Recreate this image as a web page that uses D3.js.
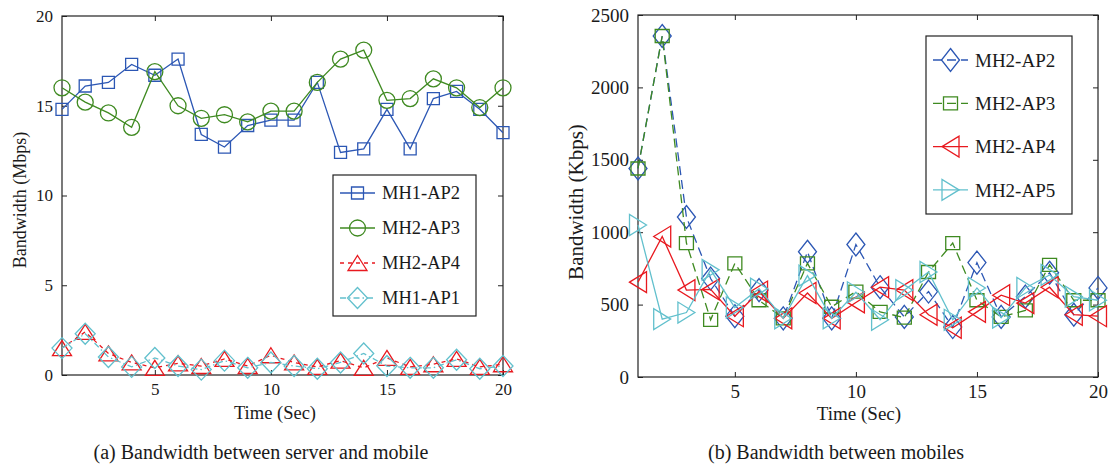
<!DOCTYPE html>
<html>
<head>
<meta charset="utf-8">
<script src="https://cdn.jsdelivr.net/npm/d3@7"></script>
<style>
  body { margin: 0; background: #fff; }
  text { font-family: "Liberation Serif", "Times New Roman", serif; fill: #1a1a1a; }
</style>
</head>
<body>
<svg id="chart" width="1113" height="465"></svg>
<script>
// time axis (seconds)
var time = [1, 2, 3, 4, 5, 6, 7, 8, 9, 10, 11, 12, 13, 14, 15, 16, 17, 18, 19, 20];
var xTicks = [5, 10, 15, 20];

// (a) server <-> mobile, Mbps
var leftYTicks = [0, 5, 10, 15, 20];
var mh1ap2 = [14.8, 16.1, 16.3, 17.3, 16.7, 17.6, 13.4, 12.7, 13.9, 14.2, 14.2, 16.3, 12.4, 12.6, 14.8, 12.6, 15.4, 15.8, 14.8, 13.5];
var mh2ap3 = [16.0, 15.2, 14.6, 13.8, 16.9, 15.0, 14.3, 14.5, 14.1, 14.7, 14.7, 16.3, 17.6, 18.1, 15.3, 15.4, 16.5, 16.0, 14.9, 16.0];
var mh2ap4 = [1.5, 2.4, 1.2, 0.7, 0.4, 0.65, 0.5, 0.9, 0.5, 1.1, 0.7, 0.45, 0.8, 0.4, 0.95, 0.45, 0.6, 0.9, 0.45, 0.6];
var mh1ap1 = [1.5, 2.3, 1.0, 0.45, 0.95, 0.5, 0.3, 0.8, 0.4, 0.7, 0.5, 0.35, 0.7, 1.2, 0.5, 0.4, 0.4, 0.85, 0.35, 0.5];

// (b) mobile <-> mobile, Kbps
var rightYTicks = [0, 500, 1000, 1500, 2000, 2500];
var mh2ap2k = [1440, 2355, 1105, 680, 420, 600, 405, 865, 405, 915, 620, 415, 590, 345, 790, 415, 555, 720, 430, 615];
var mh2ap3k = [1440, 2355, 925, 395, 785, 530, 405, 785, 485, 590, 450, 410, 725, 925, 530, 415, 460, 775, 530, 530];
var mh2ap4k = [655, 970, 600, 605, 420, 590, 405, 580, 405, 515, 620, 600, 430, 340, 450, 565, 510, 620, 430, 420];
var mh2ap5k = [1050, 400, 445, 740, 480, 610, 405, 700, 405, 585, 395, 600, 725, 395, 615, 410, 615, 705, 555, 530];

var blue = "#2c57b4", green = "#3f8a21", red = "#e8191f", cyan = "#62c0cd";
var serif = "Liberation Serif, Times New Roman, serif";

var svg = d3.select("#chart");

// marker outlines, centred on the point
function markerPath(type, w, h) {
  var a = w / 2, b = h / 2;
  if (type == "square") return "M" + (-a) + "," + (-b) + "h" + w + "v" + h + "h" + (-w) + "Z";
  if (type == "circle") return "M" + (-a) + ",0a" + a + "," + a + " 0 1,0 " + w + ",0a" + a + "," + a + " 0 1,0 " + (-w) + ",0Z";
  if (type == "diamond") return "M0," + (-b) + "L" + a + ",0L0," + b + "L" + (-a) + ",0Z";
  if (type == "triUp") return "M0," + (-b) + "L" + a + "," + b + "L" + (-a) + "," + b + "Z";
  if (type == "triLeft") return "M" + (-a) + ",0L" + a + "," + (-b) + "L" + a + "," + b + "Z";
  if (type == "triRight") return "M" + a + ",0L" + (-a) + "," + (-b) + "L" + (-a) + "," + b + "Z";
}

function drawPanel(p) {
  var x = d3.scaleLinear().domain([1, 20]).range([p.x0, p.x1]);
  var y = d3.scaleLinear().domain([p.yTicks[0], p.yTicks[p.yTicks.length - 1]]).range([p.y1, p.y0]);
  var g = svg.append("g");

  // axes, ticks pointing inward on all four sides
  var bottom = g.append("g").attr("transform", "translate(0," + p.y1 + ")")
    .call(d3.axisBottom(x).tickValues(xTicks).tickSizeInner(-5).tickSizeOuter(0).tickPadding(8).tickFormat(d3.format("d")));
  var top = g.append("g").attr("transform", "translate(0," + p.y0 + ")")
    .call(d3.axisTop(x).tickValues(xTicks).tickSizeInner(-5).tickSizeOuter(0).tickFormat(""));
  var left = g.append("g").attr("transform", "translate(" + p.x0 + ",0)")
    .call(d3.axisLeft(y).tickValues(p.yTicks).tickSizeInner(-5).tickSizeOuter(0).tickPadding(9).tickFormat(d3.format("d")));
  var right = g.append("g").attr("transform", "translate(" + p.x1 + ",0)")
    .call(d3.axisRight(y).tickValues(p.yTicks).tickSizeInner(-5).tickSizeOuter(0).tickFormat(""));
  [bottom, top, left, right].forEach(function(a) {
    a.select(".domain").remove();
    a.selectAll("line").attr("stroke", "#222").attr("stroke-width", 1);
    a.attr("font-size", p.tickFont).attr("font-family", serif);
  });

  g.append("rect")
    .attr("x", p.x0).attr("y", p.y0)
    .attr("width", p.x1 - p.x0).attr("height", p.y1 - p.y0)
    .attr("fill", "none").attr("stroke", "#222").attr("stroke-width", 1.2);

  var line = d3.line().x(function(d, i) { return x(time[i]); }).y(function(d) { return y(d); });

  p.series.forEach(function(s) {
    g.append("path")
      .datum(s.values)
      .attr("d", line)
      .attr("fill", "none")
      .attr("stroke", s.color)
      .attr("stroke-width", 1.3)
      .attr("stroke-dasharray", s.dash);
    g.selectAll(null)
      .data(s.values)
      .enter()
      .append("path")
      .attr("d", markerPath(s.marker, s.mw, s.mh))
      .attr("transform", function(d, i) { return "translate(" + x(time[i]) + "," + y(d) + ")"; })
      .attr("fill", "none")
      .attr("stroke", s.color)
      .attr("stroke-width", 1.3);
  });

  // legend
  var L = p.legend;
  g.append("rect")
    .attr("x", L.x0).attr("y", L.y0)
    .attr("width", L.x1 - L.x0).attr("height", L.y1 - L.y0)
    .attr("fill", "#fff").attr("stroke", "#222").attr("stroke-width", 1.2);
  p.series.forEach(function(s, i) {
    var cy = L.first + i * L.step;
    g.append("line")
      .attr("x1", L.lineX0).attr("x2", L.lineX1)
      .attr("y1", cy).attr("y2", cy)
      .attr("stroke", s.color).attr("stroke-width", 1.3)
      .attr("stroke-dasharray", s.dash);
    g.append("path")
      .attr("d", markerPath(s.marker, s.mw, s.mh))
      .attr("transform", "translate(" + (L.lineX0 + L.lineX1) / 2 + "," + cy + ")")
      .attr("fill", "none").attr("stroke", s.color).attr("stroke-width", 1.3);
    g.append("text")
      .attr("x", L.textX).attr("y", cy)
      .attr("dy", "0.35em")
      .attr("font-size", L.font)
      .text(s.name);
  });

  g.append("text")
    .attr("x", p.xTitleX).attr("y", 413)
    .attr("dy", "0.35em")
    .attr("text-anchor", "middle")
    .attr("font-size", p.xTitleFont)
    .text("Time (Sec)");
  g.append("text")
    .attr("transform", "translate(" + p.yTitleX + "," + p.yTitleY + ") rotate(-90)")
    .attr("dy", "0.35em")
    .attr("text-anchor", "middle")
    .attr("font-size", p.yTitleFont)
    .text(p.yTitle);
  g.append("text")
    .attr("x", p.capX).attr("y", 459)
    .attr("text-anchor", "middle")
    .attr("font-size", 20)
    .text(p.caption);
}

drawPanel({
  x0: 62, x1: 503, y0: 16, y1: 375,
  yTicks: leftYTicks, tickFont: 17,
  series: [
    { name: "MH1-AP2", values: mh1ap2, color: blue, dash: null, marker: "square", mw: 12, mh: 12 },
    { name: "MH2-AP3", values: mh2ap3, color: green, dash: null, marker: "circle", mw: 16, mh: 16 },
    { name: "MH2-AP4", values: mh2ap4, color: red, dash: "4,4", marker: "triUp", mw: 19, mh: 15 },
    { name: "MH1-AP1", values: mh1ap1, color: cyan, dash: "6,3,1.5,3", marker: "diamond", mw: 20, mh: 21 }
  ],
  legend: { x0: 333, x1: 476, y0: 175, y1: 316, first: 193, step: 35, lineX0: 340, lineX1: 375, textX: 382, font: 18.5 },
  xTitleX: 275, xTitleFont: 18.5,
  yTitle: "Bandwidth (Mbps)", yTitleX: 20, yTitleY: 200, yTitleFont: 18,
  capX: 261, caption: "(a) Bandwidth between server and mobile"
});

drawPanel({
  x0: 638, x1: 1098, y0: 15, y1: 377,
  yTicks: rightYTicks, tickFont: 19,
  series: [
    { name: "MH2-AP2", values: mh2ap2k, color: blue, dash: "9,5", marker: "diamond", mw: 18, mh: 23 },
    { name: "MH2-AP3", values: mh2ap3k, color: green, dash: "9,5", marker: "square", mw: 14, mh: 13 },
    { name: "MH2-AP4", values: mh2ap4k, color: red, dash: null, marker: "triLeft", mw: 17, mh: 21 },
    { name: "MH2-AP5", values: mh2ap5k, color: cyan, dash: null, marker: "triRight", mw: 17, mh: 21 }
  ],
  legend: { x0: 926, x1: 1072, y0: 36, y1: 214, first: 60, step: 43.3, lineX0: 933, lineX1: 968, textX: 975, font: 19 },
  xTitleX: 859, xTitleFont: 19,
  yTitle: "Bandwidth (Kbps)", yTitleX: 576, yTitleY: 202, yTitleFont: 21,
  capX: 836, caption: "(b) Bandwidth between mobiles"
});
</script>
</body>
</html>
